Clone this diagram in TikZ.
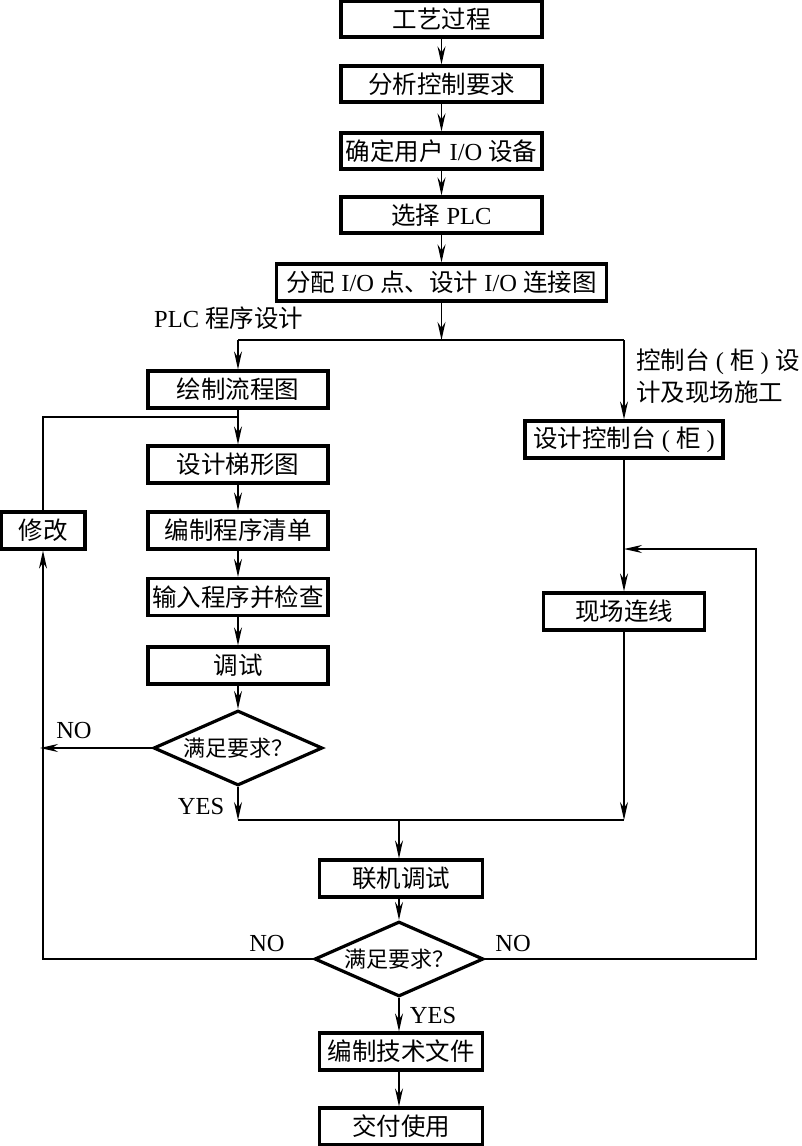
\documentclass[tikz,border=0pt]{standalone}
\usepackage{fontspec}
\setmainfont{Liberation Serif}
\newfontfamily\cjk{Noto Sans CJK SC}
\usetikzlibrary{arrows.meta,shapes.geometric}
\begin{document}
\begin{tikzpicture}[x=1pt,y=-1pt,
  every node/.style={font=\fontsize{24.5}{28}\selectfont},
  box/.style={draw,line width=3.2pt,inner sep=0pt,minimum height=36pt},
  dia/.style={draw,line width=3.2pt,shape=diamond,aspect=2.25,inner sep=0pt,minimum width=169pt,minimum height=75pt,font=\fontsize{22}{25}\selectfont},
  conn/.style={line width=1.6pt},
  arr/.style={line width=1.6pt,-{Stealth[length=18pt,width=8pt,inset=6pt]}},
  lbl/.style={inner sep=0pt}]
\useasboundingbox (0,0) rectangle (802,1146);
\fill[white] (0,0) rectangle (802,1146);
% main column
\node[box,minimum width=201pt] (b1) at (441.5,19) {\cjk 工艺过程};
\node[box,minimum width=201pt] (b2) at (441.5,84) {\cjk 分析控制要求};
\node[box,minimum width=201pt] (b3) at (441.5,151) {{\cjk 确定用户} I/O {\cjk 设备}};
\node[box,minimum width=201pt] (b4) at (441.5,215) {{\cjk 选择} PLC};
\node[box,minimum width=330pt,minimum height=37pt] (b5) at (441.5,282.5) {{\cjk 分配} I/O {\cjk 点、设计} I/O {\cjk 连接图}};
\coordinate (sp) at (441.5,340);
\coordinate (spl) at (238,340);
\coordinate (spr) at (624,340);
% left column
\node[box,minimum width=180pt,minimum height=37pt] (b6) at (238,389.5) {\cjk 绘制流程图};
\node[box,minimum width=180pt,minimum height=37pt] (b7) at (238,464.5) {\cjk 设计梯形图};
\node[box,minimum width=180pt,minimum height=37pt] (b8) at (238,530.5) {\cjk 编制程序清单};
\node[box,minimum width=180pt,minimum height=37pt] (b9) at (238,597) {\cjk 输入程序并检查};
\node[box,minimum width=180pt,minimum height=37pt] (b10) at (238,665.5) {\cjk 调试};
\node[dia] (d1) at (238,748) {\cjk 满足要求？};
\coordinate (jl) at (238,417);
\node[box,minimum width=84pt,minimum height=37pt] (xg) at (43,530.5) {\cjk 修改};
% right column
\node[box,minimum width=198pt,minimum height=37pt] (r1) at (624,439.5) {{\cjk 设计控制台} ( {\cjk 柜} )};
\node[box,minimum width=161pt,minimum height=37pt] (r2) at (624,611.5) {\cjk 现场连线};
\coordinate (jr) at (624,549);
% bottom
\coordinate (mg) at (399,820);
\coordinate (mgl) at (238,820);
\coordinate (mgr) at (624,820);
\node[box,minimum width=163pt,minimum height=37pt] (b11) at (401,878.5) {\cjk 联机调试};
\node[dia] (d2) at (399,959) {\cjk 满足要求？};
\node[box,minimum width=163pt,minimum height=37pt] (b12) at (401,1051.5) {\cjk 编制技术文件};
\node[box,minimum width=163pt,minimum height=37pt] (b13) at (401,1126.5) {\cjk 交付使用};
% labels
\node[lbl,anchor=west] (lplc) at (154,318) {PLC {\cjk 程序设计}};
\node[lbl,anchor=west] (lkz1) at (636,362) {{\cjk 控制台} ( {\cjk 柜} ) {\cjk 设}};
\node[lbl,anchor=west] (lkz2) at (636,392) {\cjk 计及现场施工};
\node[lbl] (no1) at (74,730) {NO};
\node[lbl] (yes1) at (201,806) {YES};
\node[lbl] (no2) at (267,943) {NO};
\node[lbl] (no3) at (513,943) {NO};
\node[lbl] (yes2) at (433,1015) {YES};
% connectors
\draw[arr] (b1) -- (b2);
\draw[arr] (b2) -- (b3);
\draw[arr] (b3) -- (b4);
\draw[arr] (b4) -- (b5);
\draw[arr] (b5) -- (sp);
\draw[conn] (spl) -- (spr);
\draw[arr] (spl) -- (b6);
\draw[arr] (spr) -- (r1);
\draw[arr] (b6) -- (b7);
\draw[arr] (b7) -- (b8);
\draw[arr] (b8) -- (b9);
\draw[arr] (b9) -- (b10);
\draw[arr] (b10) -- (d1);
\draw[arr] (d1.west) -- (d1.west -| xg.south) -- ++(-3,0);
\draw[conn] (xg.north) |- (jl);
\draw[arr] (d2.west) -| (xg.south);
\draw[arr] (r1) -- (r2);
\draw[arr] (d2.east) -| (756,549) -- (jr);
\draw[arr] (r2) -- (mgr);
\draw[arr] (d1.south) -- (mgl);
\draw[conn] (mgl) -- (mgr);
\draw[arr] (mg) -- (mg |- b11.north);
\draw[arr] (b11.south -| d2.north) -- (d2.north);
\draw[arr] (d2.south) -- (d2.south |- b12.north);
\draw[arr] (b12.south -| d2.south) -- (b13.north -| d2.south);
\end{tikzpicture}
\end{document}
